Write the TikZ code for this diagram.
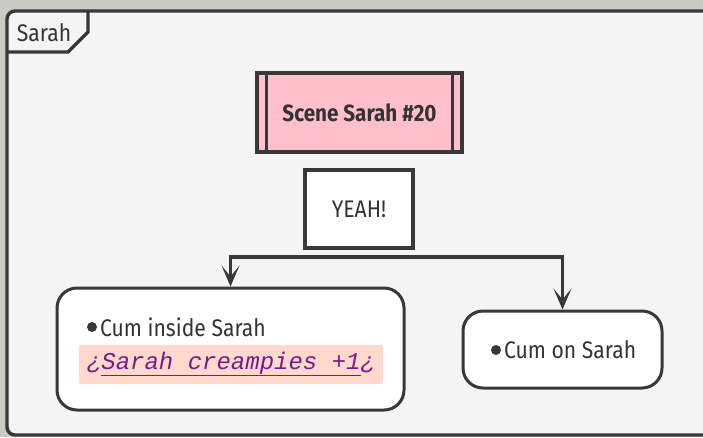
\documentclass[tikz,border=0pt]{standalone}
\usepackage{fontspec}
\setmainfont[FakeStretch=0.88]{Fira Sans}
\setmonofont{Liberation Mono}
\usetikzlibrary{arrows.meta}
\definecolor{ln}{HTML}{383838}
\definecolor{txt}{HTML}{333333}
\definecolor{bgin}{HTML}{F4F4F4}
\definecolor{bgout}{HTML}{C9CBC4}
\definecolor{pinkc}{HTML}{FFC0CB}
\definecolor{peach}{HTML}{FFDACC}
\definecolor{purp}{HTML}{7A1A88}
\begin{document}
\begin{tikzpicture}[x=1pt,y=-1pt,
  frame/.style={draw=ln, line width=3.4pt},
  lbl/.style={font=\fontsize{24}{28}\selectfont, text=txt, inner sep=0pt},
  scenebox/.style={draw=ln, line width=3.4pt, fill=pinkc, minimum width=205pt, minimum height=79pt, inner sep=0pt, font=\fontsize{23.5}{28}\selectfont\bfseries, text=txt},
  plainbox/.style={draw=ln, line width=3.4pt, fill=white, minimum width=108pt, minimum height=78pt, inner sep=0pt, font=\fontsize{24}{28}\selectfont, text=txt},
  roundbox/.style={draw=ln, line width=3pt, fill=white, rounded corners=20pt, inner sep=0pt},
  hilite/.style={fill=peach, rounded corners=2pt, inner sep=0pt, minimum width=304pt, minimum height=39pt},
  monotext/.style={font=\fontsize{24}{28}\selectfont\ttfamily\itshape, text=purp, inner sep=0pt},
  bul/.style={circle, fill=ln, inner sep=0pt, minimum size=10pt},
  conn/.style={draw=ln, line width=3.4pt},
  arr/.style={conn, -{Stealth[length=21pt,width=18pt,inset=11pt]}}
]
\useasboundingbox (0,0) rectangle (703,437);
\fill[bgout] (0,0) rectangle (703,437);
\draw[frame, fill=bgin, rounded corners=8pt] (7,11) rectangle (712,435);
\draw[frame, line join=miter] (7,52) -- (68,52) -- (88,32) -- (88,11);
\node[lbl] (tab) at (44,33) {Sarah};

\node[scenebox] (scene) at (359.5,112.5) {Scene Sarah \#20};
\draw[conn] ([xshift=11pt]scene.north west) -- ([xshift=11pt]scene.south west);
\draw[conn] ([xshift=-11pt]scene.north east) -- ([xshift=-11pt]scene.south east);

\node[plainbox] (yeah) at (359,209) {YEAH!};

\node[roundbox, minimum width=347pt, minimum height=122pt] (lbox) at (230.5,349) {};
\node[bul] (b1) at (92,327) {};
\node[lbl, anchor=west] (t1) at (100,327) {Cum inside Sarah};
\node[hilite] (hl) at (231,364.5) {};
\node[monotext] (mt) at (231,364) {¿\underline{Sarah creampies +1}¿};

\node[roundbox, minimum width=199pt, minimum height=77pt] (rbox) at (562.5,349.5) {};
\node[bul] (b2) at (496,350) {};
\node[lbl, anchor=west] (t2) at (504,350) {Cum on Sarah};

\coordinate (j1) at (230.5,257);
\coordinate (j2) at (562.5,257);
\draw[conn, line cap=rect] (j1) -- (j2);
\draw[arr] (j1) -- (lbox.north);
\draw[arr] (j2) -- (rbox.north);
\end{tikzpicture}
\end{document}
